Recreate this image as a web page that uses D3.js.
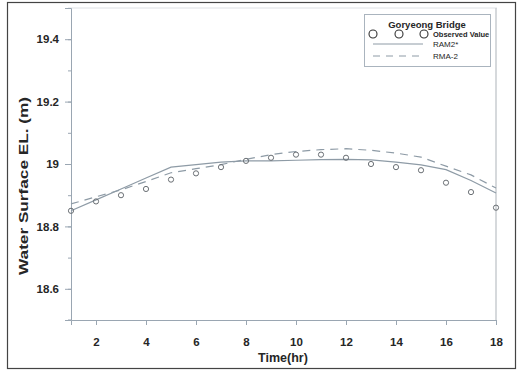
<!DOCTYPE html>
<html><head><meta charset="utf-8">
<script src="https://cdn.jsdelivr.net/npm/d3@7"></script>
<style>body{margin:0;background:#fff}svg{display:block;font-family:"Liberation Sans",Arial,sans-serif}</style>
</head><body><svg id="c" width="520" height="372"></svg>
<script>
const hours = [1,2,3,4,5,6,7,8,9,10,11,12,13,14,15,16,17,18];
const observed = [18.85,18.88,18.90,18.92,18.95,18.97,18.99,19.01,19.02,19.03,19.03,19.02,19.00,18.99,18.98,18.94,18.91,18.86];
const ram2 = [18.85,18.885,18.92,18.955,18.99,18.998,19.006,19.01,19.01,19.012,19.014,19.015,19.013,19.006,18.997,18.982,18.947,18.907];
const rma2 = [18.872,18.895,18.917,18.944,18.972,18.985,18.998,19.015,19.03,19.04,19.046,19.049,19.044,19.035,19.022,18.993,18.965,18.923];
const xTicks = [2,4,6,8,10,12,14,16,18];
const yTicks = [18.6,18.8,19,19.2,19.4];
const yMinor = [18.5,18.6,18.7,18.8,18.9,19,19.1,19.2,19.3,19.4,19.5];
const legendTitle = "Goryeong Bridge";
const seriesNames = ["Observed Value","RAM2*","RMA-2"];

const svg = d3.select("#c");
const L=71, R=496, T=8, B=320;
const x = d3.scaleLinear().domain([1,18]).range([L,R]);
const y = d3.scaleLinear().domain([18.5,19.5]).range([B,T]);
const axisCol = "#9aa6b2", lineCol = "#8e9ba6", txt = "#262626";

// outer frame
svg.append("rect").attr("x",7.5).attr("y",2.5).attr("width",508).attr("height",366)
  .attr("fill","none").attr("stroke","#444").attr("stroke-width",1.2);

// plot frame (top, right)
svg.append("line").attr("x1",L-3).attr("x2",R+1).attr("y1",T).attr("y2",T).attr("stroke","#dde0e4");
svg.append("line").attr("x1",R).attr("x2",R).attr("y1",T).attr("y2",B).attr("stroke","#c8ccd0").attr("stroke-width",1.5);

// Y axis
const ya = svg.append("g").attr("transform",`translate(${L},0)`)
  .call(d3.axisLeft(y).tickValues(yTicks).tickSize(6).tickPadding(6).tickFormat(d=>d3.format("")(+d.toFixed(1))));
ya.select(".domain").attr("stroke",axisCol);
ya.selectAll(".tick line").attr("stroke",axisCol);
ya.selectAll("text").attr("font-size",11.5).attr("font-weight","bold").attr("fill",txt);
const yMin = svg.append("g").attr("transform",`translate(${L},0)`)
  .call(d3.axisLeft(y).tickValues(yMinor).tickSize(3).tickFormat(""));
yMin.select(".domain").remove();
yMin.selectAll(".tick line").attr("stroke",axisCol);

// X axis
const xa = svg.append("g").attr("transform",`translate(0,${B})`)
  .call(d3.axisBottom(x).tickValues(xTicks).tickSize(5).tickPadding(13));
xa.select(".domain").attr("stroke",axisCol);
xa.selectAll(".tick line").attr("stroke",axisCol);
xa.selectAll("text").attr("font-size",11.5).attr("font-weight","bold").attr("fill",txt);
svg.append("line").attr("x1",L-3).attr("x2",L).attr("y1",B).attr("y2",B).attr("stroke",axisCol);

// axis titles
svg.append("text").attr("x",283).attr("y",361.5).attr("text-anchor","middle")
  .attr("font-size",12.5).attr("font-weight","bold").attr("fill",txt).text("Time(hr)");
svg.append("text").attr("transform",`translate(27.5,186) rotate(-90)`).attr("text-anchor","middle")
  .attr("font-size",13).attr("font-weight","bold").attr("fill",txt)
  .attr("textLength",178).attr("lengthAdjust","spacingAndGlyphs").text("Water Surface EL. (m)");

// lines
const line = d3.line().x((d,i)=>x(hours[i])).y(d=>y(d));
svg.append("path").datum(rma2).attr("d",line).attr("fill","none").attr("stroke",lineCol)
  .attr("stroke-width",1.2).attr("stroke-dasharray","8,6");
svg.append("path").datum(ram2).attr("d",line).attr("fill","none").attr("stroke",lineCol).attr("stroke-width",1.2);

// observed points
svg.append("g").selectAll("circle").data(observed).join("circle")
  .attr("cx",(d,i)=>x(hours[i])).attr("cy",d=>y(d)).attr("r",2.6)
  .attr("fill","none").attr("stroke","#6a6f74").attr("stroke-width",1);

// legend
const lg = svg.append("g");
lg.append("rect").attr("x",364.5).attr("y",14.5).attr("width",126).attr("height",52)
  .attr("fill","#fff").attr("stroke","#aab4be").attr("stroke-width",1);
lg.append("text").attr("x",427).attr("y",28).attr("text-anchor","middle").attr("font-size",9.5)
  .attr("font-weight","bold").attr("fill",txt).text(legendTitle);
[373,399,424].forEach(cx=>lg.append("circle").attr("cx",cx).attr("cy",34).attr("r",4)
  .attr("fill","none").attr("stroke","#333").attr("stroke-width",1.1));
lg.append("line").attr("x1",373).attr("x2",423).attr("y1",44).attr("y2",44).attr("stroke",lineCol).attr("stroke-width",1);
lg.append("line").attr("x1",373).attr("x2",423).attr("y1",56).attr("y2",56).attr("stroke",lineCol)
  .attr("stroke-width",1).attr("stroke-dasharray","7,6");
const ly=[34,44,56];
seriesNames.forEach((n,i)=>lg.append("text").attr("x",433).attr("y",ly[i]+3)
  .attr("font-size",i==0?7.5:8).attr("fill",txt).attr("font-weight",i==0?"bold":"normal").text(n));
</script></body></html>
